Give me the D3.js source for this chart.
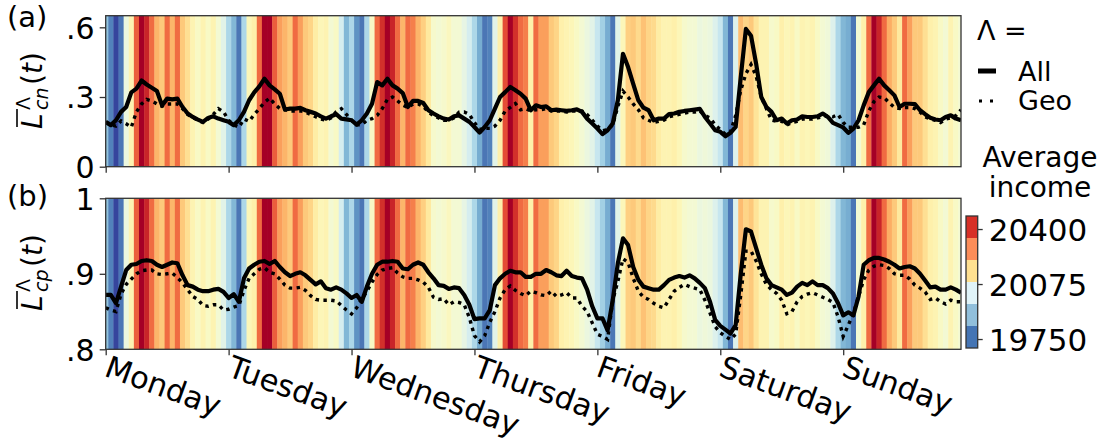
<!DOCTYPE html>
<html><head><meta charset="utf-8">
<script src="https://cdn.jsdelivr.net/npm/d3@7"></script>
<style>
body{margin:0;background:#fff}
svg{display:block}
text{font-family:"DejaVu Sans",sans-serif;fill:#000}
</style>
</head><body>
<svg id="chart" width="1111" height="446"></svg>
<script>
// ---------------- data ----------------
const dayLabels = ["Monday","Tuesday","Wednesday","Thursday","Friday","Saturday","Sunday"];
const dayTicks = [0,24,48,72,96,120,144];
const hours = d3.range(168);

// average income of active users per hour (background stripes)
const income = [
 19895,19794,19716,19778,20040,20110,20340,20480,20418,20324,20230,20200,20324,20230,20324,20200,20160,20110,20080,20110,20080,20110,20060,20020,
 19934,19872,19778,19934,20100,20120,20324,20480,20480,20340,20260,20230,20200,20324,20260,20200,20180,20130,20100,20110,20060,20080,19996,19872,
 19934,19817,19778,19934,20080,20324,20402,20480,20418,20324,20230,20324,20300,20230,20190,20140,20070,20060,20070,20090,20060,20060,20030,19996,
 19934,19856,19778,19794,20020,20120,20363,20480,20402,20324,20300,20120,20324,20260,20260,20200,20180,20120,20110,20100,20080,20060,20040,20020,
 19973,19918,19856,19778,20020,20100,20190,20200,20170,20210,20180,20170,20130,20110,20110,20120,20100,20070,20060,20060,20040,20050,20040,20010,
 19973,19872,19778,20010,20220,20180,20200,20150,20110,20110,20070,20080,20120,20100,20110,20080,20110,20100,20110,20080,20060,20050,20010,19934,
 19872,19856,19778,20060,20120,20324,20480,20418,20324,20240,20200,20140,20324,20260,20200,20200,20160,20120,20110,20080,20060,20110,20080,20060
];

// panel (a): L_cn
const cnAll = [
 0.193,0.179,0.2,0.236,0.257,0.32,0.336,0.371,0.354,0.34,0.326,0.264,0.293,0.29,0.293,0.257,0.229,0.214,0.203,0.193,0.21,0.217,0.207,0.2,
 0.193,0.179,0.2,0.236,0.286,0.32,0.346,0.379,0.35,0.333,0.314,0.246,0.25,0.25,0.253,0.243,0.236,0.229,0.217,0.207,0.217,0.226,0.207,0.204,
 0.2,0.181,0.2,0.229,0.271,0.364,0.35,0.379,0.35,0.336,0.317,0.257,0.283,0.283,0.274,0.243,0.229,0.217,0.207,0.203,0.217,0.221,0.207,0.193,
 0.171,0.147,0.171,0.2,0.25,0.3,0.321,0.343,0.329,0.314,0.293,0.243,0.264,0.257,0.26,0.243,0.246,0.243,0.24,0.243,0.247,0.236,0.207,0.186,
 0.164,0.14,0.157,0.186,0.286,0.486,0.429,0.357,0.286,0.254,0.243,0.2,0.207,0.207,0.226,0.229,0.236,0.24,0.243,0.246,0.249,0.214,0.186,0.157,
 0.15,0.131,0.146,0.171,0.386,0.593,0.564,0.443,0.3,0.257,0.236,0.2,0.207,0.186,0.2,0.203,0.217,0.214,0.214,0.217,0.229,0.214,0.189,0.179,
 0.169,0.146,0.164,0.2,0.264,0.321,0.35,0.379,0.35,0.329,0.307,0.257,0.271,0.271,0.269,0.243,0.226,0.211,0.203,0.2,0.214,0.221,0.207,0.2
];
const cnGeo = [
 0.19,0.18,0.175,0.197,0.185,0.17,0.236,0.27,0.29,0.283,0.27,0.26,0.27,0.27,0.27,0.25,0.225,0.212,0.2,0.19,0.205,0.225,0.25,0.236,
 0.2,0.18,0.17,0.205,0.195,0.225,0.25,0.277,0.295,0.27,0.25,0.245,0.24,0.24,0.24,0.235,0.225,0.215,0.205,0.2,0.21,0.236,0.25,0.225,
 0.2,0.18,0.18,0.2,0.207,0.221,0.25,0.29,0.3,0.283,0.265,0.255,0.27,0.27,0.26,0.235,0.22,0.21,0.2,0.2,0.21,0.235,0.236,0.225,
 0.19,0.16,0.165,0.165,0.175,0.2,0.24,0.255,0.272,0.245,0.25,0.24,0.245,0.245,0.25,0.24,0.24,0.24,0.235,0.24,0.24,0.24,0.225,0.2,
 0.175,0.155,0.16,0.18,0.26,0.325,0.3,0.27,0.245,0.21,0.2,0.19,0.195,0.2,0.215,0.22,0.225,0.23,0.235,0.235,0.24,0.22,0.21,0.18,
 0.16,0.14,0.15,0.22,0.33,0.4,0.44,0.39,0.3,0.25,0.2,0.195,0.195,0.18,0.19,0.195,0.205,0.205,0.205,0.21,0.215,0.22,0.215,0.225,
 0.19,0.17,0.17,0.17,0.18,0.24,0.28,0.3,0.297,0.275,0.255,0.25,0.255,0.255,0.25,0.235,0.215,0.205,0.2,0.19,0.205,0.21,0.22,0.245
];

// panel (b): L_cp
const cpAll = [
 0.872,0.872,0.861,0.883,0.905,0.912,0.913,0.917,0.918,0.917,0.912,0.909,0.912,0.915,0.914,0.898,0.885,0.883,0.879,0.877,0.877,0.879,0.88,0.876,
 0.868,0.873,0.863,0.894,0.907,0.912,0.916,0.917,0.913,0.917,0.909,0.902,0.897,0.9,0.902,0.898,0.892,0.886,0.89,0.881,0.879,0.882,0.879,0.874,
 0.868,0.872,0.863,0.883,0.9,0.912,0.916,0.916,0.917,0.916,0.907,0.906,0.912,0.915,0.912,0.902,0.894,0.885,0.884,0.88,0.882,0.881,0.872,0.859,
 0.84,0.841,0.841,0.852,0.885,0.894,0.9,0.904,0.902,0.902,0.896,0.896,0.9,0.9,0.905,0.902,0.898,0.897,0.904,0.897,0.895,0.894,0.879,0.857,
 0.841,0.841,0.825,0.865,0.914,0.947,0.938,0.909,0.892,0.883,0.881,0.879,0.879,0.885,0.892,0.895,0.897,0.895,0.898,0.894,0.888,0.881,0.863,0.839,
 0.831,0.826,0.821,0.832,0.9,0.959,0.956,0.934,0.912,0.894,0.885,0.882,0.879,0.872,0.875,0.883,0.888,0.885,0.89,0.885,0.885,0.881,0.874,0.861,
 0.845,0.849,0.845,0.87,0.912,0.918,0.921,0.921,0.919,0.916,0.912,0.907,0.909,0.91,0.907,0.9,0.891,0.882,0.883,0.879,0.879,0.882,0.879,0.875
];
const cpGeo = [
 0.855,0.852,0.85,0.873,0.886,0.893,0.9,0.904,0.905,0.905,0.9,0.899,0.9,0.901,0.895,0.888,0.879,0.87,0.866,0.858,0.857,0.859,0.859,0.852,
 0.853,0.856,0.858,0.878,0.894,0.9,0.906,0.908,0.902,0.9,0.893,0.885,0.881,0.881,0.882,0.878,0.871,0.866,0.865,0.865,0.865,0.864,0.858,0.852,
 0.847,0.855,0.866,0.877,0.889,0.899,0.905,0.907,0.908,0.901,0.896,0.894,0.894,0.892,0.889,0.882,0.869,0.866,0.867,0.859,0.863,0.862,0.859,0.842,
 0.818,0.81,0.818,0.836,0.85,0.868,0.879,0.884,0.878,0.874,0.871,0.877,0.875,0.872,0.871,0.877,0.87,0.872,0.875,0.868,0.868,0.857,0.85,0.835,
 0.82,0.817,0.813,0.865,0.89,0.92,0.915,0.894,0.877,0.869,0.866,0.861,0.857,0.855,0.866,0.877,0.882,0.886,0.883,0.881,0.879,0.865,0.848,0.83,
 0.822,0.817,0.813,0.82,0.872,0.93,0.93,0.917,0.9,0.886,0.879,0.874,0.865,0.847,0.85,0.863,0.87,0.873,0.875,0.872,0.869,0.866,0.862,0.843,
 0.817,0.832,0.848,0.87,0.892,0.905,0.91,0.912,0.911,0.907,0.9,0.898,0.898,0.893,0.885,0.881,0.876,0.866,0.868,0.863,0.86,0.865,0.863,0.863
];

const cnTicks = [0, 0.3, 0.6];
const cnTickLabels = ["0", ".3", ".6"];
const cpTicks = [0.8, 0.9, 1.0];
const cpTickLabels = [".8", ".9", "1"];

const cbEdges = [19697, 19827, 19957, 20087, 20217, 20347, 20477];
const cbColors = ["#4575b4", "#91bfdb", "#e0f3f8", "#fee090", "#fc8d59", "#d73027"];
const cbTicks = [19750, 20075, 20400];

const legendTitle = "Λ =";
const legendNames = ["All", "Geo"];
const cbTitle = ["Average", "income"];

// ---------------- layout ----------------
const svg = d3.select("#chart");
const L = 105.7, R = 961;
const x = d3.scaleLinear().domain([0, 167]).range([L, R]);
const yA = d3.scaleLinear().domain([0, 0.65]).range([166.7, 15.7]);
const yB = d3.scaleLinear().domain([0.8, 1.0]).range([349.3, 198.3]);
const color = d3.scaleSequential(t => d3.interpolateRdYlBu(1 - t)).domain([cbEdges[0], cbEdges[cbEdges.length - 1]]);
const frame = "#333";

function panel(id, y, allV, geoV, ticks, tickLabels, showLabels) {
  const [y0, y1] = y.range();
  const g = svg.append("g");
  svg.append("clipPath").attr("id", "clip" + id)
    .append("rect").attr("x", L).attr("y", y1).attr("width", R - L).attr("height", y0 - y1);
  const inner = g.append("g").attr("clip-path", `url(#clip${id})`);
  inner.selectAll("rect.stripe").data(hours).join("rect")
    .attr("class", "stripe")
    .attr("x", h => x(Math.max(0, h - 0.5)))
    .attr("width", h => x(Math.min(167, h + 0.5)) - x(Math.max(0, h - 0.5)) + 0.4)
    .attr("y", y1).attr("height", y0 - y1)
    .attr("fill", h => color(income[h]));
  const line = d3.line().x((d, i) => x(i)).y(d => y(d));
  inner.append("path").datum(allV).attr("d", line)
    .attr("fill", "none").attr("stroke", "#000").attr("stroke-width", 4.2).attr("stroke-linejoin", "round");
  inner.append("path").datum(geoV).attr("d", line)
    .attr("fill", "none").attr("stroke", "#000").attr("stroke-width", 3.4).attr("stroke-dasharray", "3.4 4.4");
  g.append("rect").attr("x", L).attr("y", y1).attr("width", R - L).attr("height", y0 - y1)
    .attr("fill", "none").attr("stroke", frame).attr("stroke-width", 1.3);

  const ya = g.append("g").attr("transform", `translate(${L},0)`)
    .call(d3.axisLeft(y).tickValues(ticks).tickFormat((d, i) => tickLabels[i]).tickSize(6).tickPadding(5));
  ya.select(".domain").remove();
  ya.selectAll("line").attr("stroke", frame).attr("stroke-width", 1.3);
  ya.selectAll("text").style("font-size", "30px").attr("font-family", null).attr("dy", "0.36em");

  const xa = g.append("g").attr("transform", `translate(0,${y0})`)
    .call(d3.axisBottom(x).tickValues(dayTicks).tickFormat("").tickSize(6));
  xa.select(".domain").remove();
  xa.selectAll("line").attr("stroke", frame).attr("stroke-width", 1.3);

  if (showLabels) {
    g.selectAll("text.day").data(dayTicks).join("text")
      .attr("class", "day")
      .attr("transform", d => `translate(${x(d) + 5},${y0 + 5}) rotate(20)`)
      .attr("dy", "0.74em")
      .style("font-size", "30.5px")
      .text((d, i) => dayLabels[i]);
  }
}

panel("a", yA, cnAll, cnGeo, cnTicks, cnTickLabels, false);
panel("b", yB, cpAll, cpGeo, cpTicks, cpTickLabels, true);

// y labels  \bar{L}^{Λ}_{sub}(t)
function ylab(cy, sub) {
  const g = svg.append("g").attr("transform", `translate(42,${cy}) rotate(-90)`);
  const x0 = -36;
  g.append("text").attr("x", x0).attr("y", 0).style("font-size", "28px").style("font-style", "italic").text("L");
  g.append("line").attr("x1", x0 + 2).attr("x2", x0 + 20).attr("y1", -25).attr("y2", -25)
    .attr("stroke", "#000").attr("stroke-width", 1.6);
  g.append("text").attr("x", x0 + 19).attr("y", -12).style("font-size", "19px").text("Λ");
  g.append("text").attr("x", x0 + 19).attr("y", 6).style("font-size", "19px").style("font-style", "italic").text(sub);
  const t = g.append("text").attr("x", x0 + 44).attr("y", 0).style("font-size", "28px");
  t.append("tspan").text("(");
  t.append("tspan").style("font-style", "italic").text("t");
  t.append("tspan").text(")");
}
ylab(93, "cn");
ylab(275, "cp");

svg.append("text").attr("x", 7).attr("y", 27).style("font-size", "29px").text("(a)");
svg.append("text").attr("x", 7).attr("y", 206).style("font-size", "29px").text("(b)");

// legend
svg.append("text").attr("x", 977).attr("y", 40).style("font-size", "27px").text(legendTitle);
svg.append("line").attr("x1", 978).attr("x2", 996).attr("y1", 71).attr("y2", 71)
  .attr("stroke", "#000").attr("stroke-width", 5);
svg.append("line").attr("x1", 979).attr("x2", 995).attr("y1", 101).attr("y2", 101)
  .attr("stroke", "#000").attr("stroke-width", 3).attr("stroke-dasharray", "3 8");
legendNames.forEach((n, i) => {
  svg.append("text").attr("x", 1018).attr("y", 81 + i * 29).style("font-size", "27px").text(n);
});
cbTitle.forEach((t, i) => {
  svg.append("text").attr("x", 1040).attr("y", 167 + i * 30).attr("text-anchor", "middle")
    .style("font-size", "28px").text(t);
});

// colorbar
const cbX = 966, cbW = 11.7;
const cbY = d3.scaleLinear().domain([cbEdges[0], cbEdges[cbEdges.length - 1]]).range([348, 216]);
svg.selectAll("rect.cb").data(cbColors).join("rect").attr("class", "cb")
  .attr("x", cbX).attr("width", cbW)
  .attr("y", (c, i) => cbY(cbEdges[i + 1]))
  .attr("height", (c, i) => cbY(cbEdges[i]) - cbY(cbEdges[i + 1]))
  .attr("fill", c => c);
svg.append("rect").attr("x", cbX).attr("y", 216).attr("width", cbW).attr("height", 132)
  .attr("fill", "none").attr("stroke", frame).attr("stroke-width", 1.3);
const cba = svg.append("g").attr("transform", `translate(${cbX + cbW},0)`)
  .call(d3.axisRight(cbY).tickValues(cbTicks).tickFormat(d3.format("d")).tickSize(5).tickPadding(6));
cba.select(".domain").remove();
cba.selectAll("line").attr("stroke", frame).attr("stroke-width", 1.3);
cba.selectAll("text").style("font-size", "31px").attr("font-family", null).attr("dy", "0.36em");
</script>
</body></html>
